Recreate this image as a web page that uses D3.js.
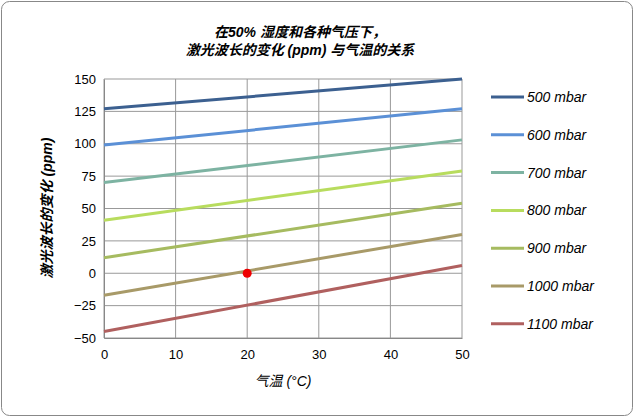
<!DOCTYPE html>
<html><head><meta charset="utf-8">
<script src="https://cdn.jsdelivr.net/npm/d3@7"></script>
<style>body{margin:0;background:#fff}text{font-family:"Liberation Sans","Noto Sans CJK SC",sans-serif}</style>
</head><body><svg id="c" width="634" height="417"></svg>
<script>
var series = ["500 mbar","600 mbar","700 mbar","800 mbar","900 mbar","1000 mbar","1100 mbar"];
var startVals = [127, 99, 70, 41, 12, -17, -45];
var endVals = [150, 127, 103, 79, 54, 30, 6];
var colors = ["#3c6090","#5b90d6","#7db3a2","#b8dc5e","#a6bb60","#a89a68","#b0605f"];
var xTicks = [0,10,20,30,40,50];
var yTicks = [-50,-25,0,25,50,75,100,125,150];
var marker = {t:20, v:0};

var svg = d3.select("#c");
svg.append("rect").attr("x",1.5).attr("y",1.5).attr("width",631).attr("height",414)
  .attr("rx",8).attr("fill","#fff").attr("stroke","#888");

var x = d3.scaleLinear().domain([0,50]).range([104,462]);
var y = d3.scaleLinear().domain([-50,150]).range([338,79]);

svg.append("g").selectAll("line").data(xTicks).enter().append("line")
  .attr("x1",x).attr("x2",x).attr("y1",y(-50)).attr("y2",y(150)).attr("stroke","#999");
svg.append("g").selectAll("line").data(yTicks).enter().append("line")
  .attr("x1",x(0)).attr("x2",x(50)).attr("y1",y).attr("y2",y).attr("stroke","#999");

var xa = svg.append("g").attr("transform","translate(0,"+y(-50)+")")
  .call(d3.axisBottom(x).tickValues(xTicks).tickSize(0).tickPadding(12));
var ya = svg.append("g").attr("transform","translate("+x(0)+",0)")
  .call(d3.axisLeft(y).tickValues(yTicks).tickSize(0).tickPadding(8));
[xa,ya].forEach(function(a){
  a.select(".domain").attr("stroke","#888");
  a.selectAll("text").attr("font-size",13).attr("fill","#000");
});

series.forEach(function(s,i){
  var pts = [{t:0,v:startVals[i]},{t:50,v:endVals[i]}];
  svg.append("path").attr("d", d3.line().x(function(d){return x(d.t);}).y(function(d){return y(d.v);})(pts))
    .attr("stroke",colors[i]).attr("stroke-width",3).attr("fill","none");
  var ly = 97 + i*37.8;
  svg.append("line").attr("x1",491).attr("x2",524).attr("y1",ly).attr("y2",ly)
    .attr("stroke",colors[i]).attr("stroke-width",3);
  svg.append("text").attr("x",527).attr("y",ly+5).attr("font-size",14)
    .attr("font-style","italic").text(s);
});

svg.append("circle").attr("cx",x(marker.t)).attr("cy",y(marker.v)).attr("r",4.5).attr("fill","#e00");

svg.append("text").attr("x",300).attr("y",37).attr("text-anchor","middle").attr("font-size",14)
  .attr("font-weight","bold").attr("font-style","italic").text("在50% 湿度和各种气压下，");
svg.append("text").attr("x",300).attr("y",55).attr("text-anchor","middle").attr("font-size",14)
  .attr("font-weight","bold").attr("font-style","italic").text("激光波长的变化 (ppm) 与气温的关系");
svg.append("text").attr("x",283).attr("y",386).attr("text-anchor","middle").attr("font-size",14)
  .attr("font-style","italic").text("气温 (°C)");
svg.append("text").attr("transform","translate(52,208) rotate(-90)").attr("text-anchor","middle")
  .attr("font-size",14).attr("font-weight","bold").attr("font-style","italic").text("激光波长的变化 (ppm)");
</script></body></html>
